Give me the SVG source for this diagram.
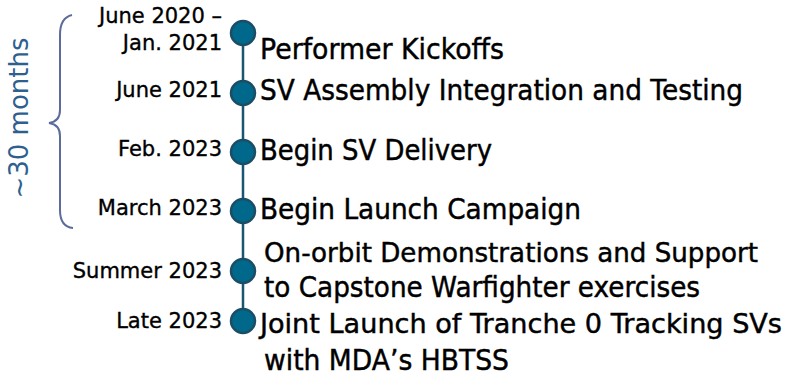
<svg xmlns="http://www.w3.org/2000/svg" width="791" height="381" viewBox="0 0 791 381">
<style>
.date{font-family:"DejaVu Sans",sans-serif;font-size:21px;fill:#000;stroke:#000;stroke-width:0.35;text-anchor:end}
.lbl{font-family:"DejaVu Sans",sans-serif;font-size:28px;fill:#000;stroke:#000;stroke-width:0.45}
.lbl.w{font-size:27px}
.dot{fill:#00688a;stroke:#1b4e66;stroke-width:2.5}
</style>
<rect width="791" height="381" fill="#fff"/>
<g id="connectors">
<line x1="243" y1="33" x2="243" y2="321" stroke="#1b5570" stroke-width="2.5"/>
</g>
<g id="brace">
<path d="M72,15 C63,17 60,25 60,35 L60,110 C60,118 56,122 49,123 C56,124 60,128 60,136 L60,210 C60,220 63,227 73,228" fill="none" stroke="#5b6c9a" stroke-width="2"/>
<text transform="translate(28,118) rotate(-90)" font-family="DejaVu Sans,sans-serif" font-size="26" fill="#2e5f8f" text-anchor="middle">~30 months</text>
</g>
<g id="n1"><circle class="dot" cx="243" cy="33" r="12"/><text class="date" x="222" y="23">June 2020 –</text><text class="date" x="222" y="50">Jan. 2021</text><text class="lbl" x="260" y="59" textLength="244" lengthAdjust="spacingAndGlyphs">Performer Kickoffs</text></g>
<g id="n2"><circle class="dot" cx="243" cy="93" r="12"/><text class="date" x="222" y="97">June 2021</text><text class="lbl" x="260" y="100" textLength="483" lengthAdjust="spacingAndGlyphs">SV Assembly Integration and Testing</text></g>
<g id="n3"><circle class="dot" cx="243" cy="152" r="12"/><text class="date" x="222" y="156">Feb. 2023</text><text class="lbl" x="260" y="160" textLength="232" lengthAdjust="spacingAndGlyphs">Begin SV Delivery</text></g>
<g id="n4"><circle class="dot" cx="243" cy="211" r="12"/><text class="date" x="222" y="215">March 2023</text><text class="lbl" x="260" y="219" textLength="321" lengthAdjust="spacingAndGlyphs">Begin Launch Campaign</text></g>
<g id="n5"><circle class="dot" cx="243" cy="271" r="12"/><text class="date" x="222" y="278">Summer 2023</text><text class="lbl w" x="264" y="262" textLength="494" lengthAdjust="spacingAndGlyphs">On-orbit Demonstrations and Support</text><text class="lbl" x="264" y="297" textLength="436" lengthAdjust="spacingAndGlyphs">to Capstone Warfighter exercises</text></g>
<g id="n6"><circle class="dot" cx="243" cy="321" r="12"/><text class="date" x="222" y="328">Late 2023</text><text class="lbl w" x="260" y="333" textLength="522" lengthAdjust="spacingAndGlyphs">Joint Launch of Tranche 0 Tracking SVs</text><text class="lbl" x="264" y="370" textLength="245" lengthAdjust="spacingAndGlyphs">with MDA’s HBTSS</text></g>
</svg>
